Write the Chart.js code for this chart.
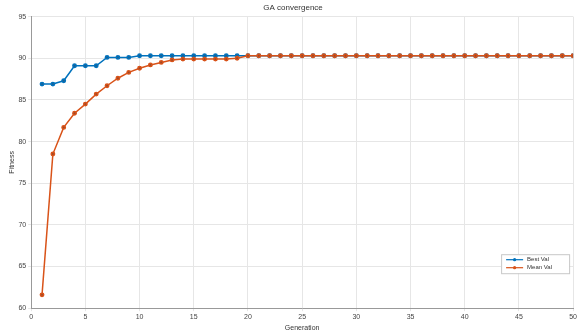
<!DOCTYPE html>
<html>
<head>
<meta charset="utf-8">
<script src="https://cdn.jsdelivr.net/npm/chart.js@4.4.0/dist/chart.umd.min.js"></script>
<style>
  html, body { margin: 0; padding: 0; background: #fff; }
  #wrap { width: 579px; height: 333px; }
</style>
</head>
<body>
<div id="wrap"><canvas id="gaChart" width="579" height="333"></canvas></div>
<script>
// Generations 1..50
const generations = [];
for (let g = 1; g <= 50; g++) generations.push(g);

// Best value per generation
const bestVal = [86.9, 86.9, 87.3, 89.1, 89.1, 89.1, 90.1, 90.1, 90.1, 90.3,
  90.3, 90.3, 90.3, 90.3, 90.3, 90.3, 90.3, 90.3, 90.3, 90.3,
  90.3, 90.3, 90.3, 90.3, 90.3, 90.3, 90.3, 90.3, 90.3, 90.3,
  90.3, 90.3, 90.3, 90.3, 90.3, 90.3, 90.3, 90.3, 90.3, 90.3,
  90.3, 90.3, 90.3, 90.3, 90.3, 90.3, 90.3, 90.3, 90.3, 90.3];

// Mean value per generation
const meanVal = [61.6, 78.5, 81.7, 83.4, 84.5, 85.7, 86.7, 87.6, 88.3, 88.8,
  89.2, 89.5, 89.8, 89.9, 89.9, 89.9, 89.9, 89.9, 90.0, 90.3,
  90.3, 90.3, 90.3, 90.3, 90.3, 90.3, 90.3, 90.3, 90.3, 90.3,
  90.3, 90.3, 90.3, 90.3, 90.3, 90.3, 90.3, 90.3, 90.3, 90.3,
  90.3, 90.3, 90.3, 90.3, 90.3, 90.3, 90.3, 90.3, 90.3, 90.3];

const seriesLabels = ['Best Val', 'Mean Val'];

const blue = '#0072BD';
const orange = '#D95319';
const fontFam = 'Arial, "Liberation Sans", sans-serif';

// legend drawn in the lower right corner of the plot area, like MATLAB
const boxLegend = {
  id: 'boxLegend',
  afterDraw(chart) {
    const ctx = chart.ctx;
    const area = chart.chartArea;
    const w = 68, h = 19;
    const x0 = area.right - w - 4, y0 = area.bottom - 54;
    ctx.save();
    ctx.fillStyle = '#fff';
    ctx.fillRect(x0, y0, w, h);
    ctx.strokeStyle = '#c8c8c8';
    ctx.lineWidth = 1;
    ctx.strokeRect(x0 + 0.5, y0 + 0.5, w, h);
    ctx.font = '6px ' + fontFam;
    ctx.textBaseline = 'middle';
    chart.data.datasets.forEach((ds, i) => {
      const yy = y0 + 5.5 + i * 8;
      ctx.strokeStyle = ds.borderColor;
      ctx.lineWidth = 1.2;
      ctx.beginPath();
      ctx.moveTo(x0 + 5, yy);
      ctx.lineTo(x0 + 22, yy);
      ctx.stroke();
      ctx.fillStyle = ds.borderColor;
      ctx.beginPath();
      ctx.arc(x0 + 13.5, yy, 1.6, 0, Math.PI * 2);
      ctx.fill();
      ctx.fillStyle = '#333';
      ctx.fillText(ds.label, x0 + 26, yy);
    });
    ctx.restore();
  }
};

const ctx = document.getElementById('gaChart').getContext('2d');
const gaChart = new Chart(ctx, {
  type: 'line',
  data: {
    labels: generations,
    datasets: [{
      label: seriesLabels[0],
      data: generations.map((g, i) => ({ x: g, y: bestVal[i] })),
      borderColor: blue,
      backgroundColor: blue,
      borderWidth: 1.5,
      pointRadius: 1.7,
      pointBackgroundColor: '#1f5f8f',
      pointBorderColor: blue,
      fill: false,
      order: 2
    }, {
      label: seriesLabels[1],
      data: generations.map((g, i) => ({ x: g, y: meanVal[i] })),
      borderColor: orange,
      backgroundColor: orange,
      borderWidth: 1.5,
      pointRadius: 1.7,
      pointBackgroundColor: '#9a4a2a',
      pointBorderColor: orange,
      fill: false,
      order: 1
    }]
  },
  options: {
    responsive: false,
    animation: false,
    layout: { padding: { left: 8, right: 1, top: 0, bottom: 0 } },
    plugins: {
      legend: { display: false },
      tooltip: { enabled: false },
      title: {
        display: true,
        text: 'GA convergence',
        color: '#333',
        font: { family: fontFam, size: 8, weight: 'normal' },
        padding: { top: 3, bottom: 4 }
      }
    },
    scales: {
      x: {
        type: 'linear',
        min: 0,
        max: 50,
        ticks: { stepSize: 5, color: '#444', font: { family: fontFam, size: 7 }, padding: 2, maxRotation: 0 },
        grid: { color: '#e6e6e6', tickLength: 3 },
        border: { color: '#999' },
        title: { display: true, text: 'Generation', color: '#333', font: { family: fontFam, size: 7 }, padding: { top: 0, bottom: 1 } }
      },
      y: {
        min: 60,
        max: 95,
        ticks: { stepSize: 5, color: '#444', font: { family: fontFam, size: 7 }, padding: 2 },
        grid: { color: '#e6e6e6', tickLength: 3 },
        border: { color: '#999' },
        title: { display: true, text: 'Fitness', color: '#333', font: { family: fontFam, size: 7 }, padding: 0 }
      }
    }
  },
  plugins: [boxLegend]
});
</script>
</body>
</html>
